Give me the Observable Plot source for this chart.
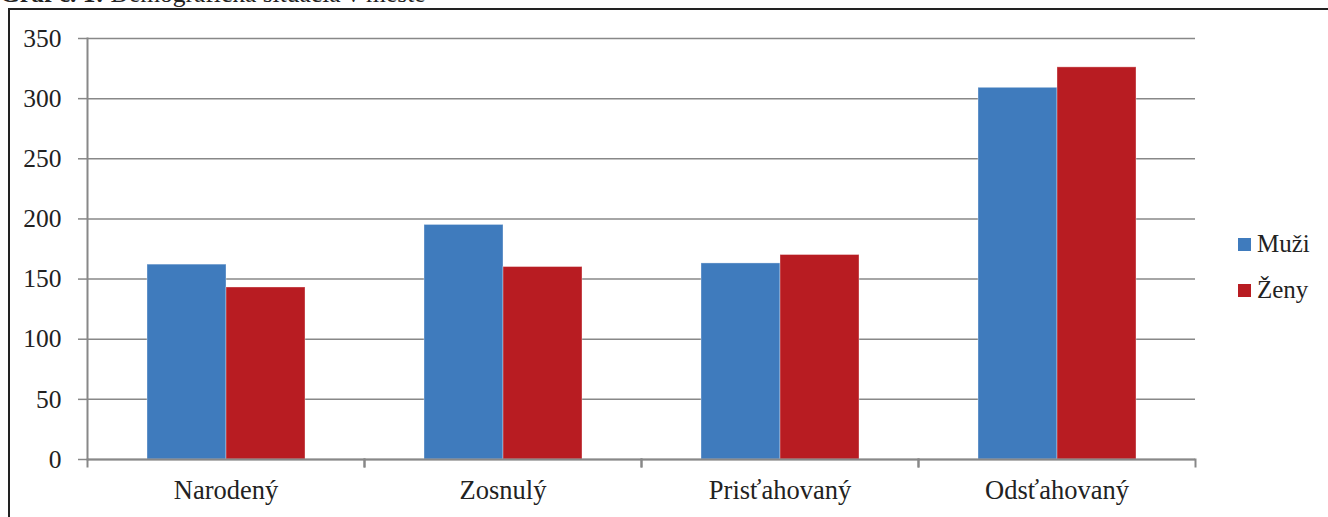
<!DOCTYPE html>
<html>
<head>
<meta charset="utf-8">
<script src="https://cdn.jsdelivr.net/npm/d3@7"></script>
<script src="https://cdn.jsdelivr.net/npm/@observablehq/plot@0.6"></script>
<style>
  html, body { margin: 0; padding: 0; background: #fff; overflow: hidden; }
  body { width: 1328px; height: 517px; position: relative; font-family: "Liberation Serif", "DejaVu Serif", serif; }
  #title { position: absolute; left: 0; top: -19px; font-size: 25.5px; line-height: 1; color: #222; white-space: nowrap; }
  #box { position: absolute; left: 8px; top: 8px; width: 1340px; height: 540px; border: 2px solid #222; box-sizing: border-box; }
  #chart { position: absolute; left: 0; top: 0; }
  #legend { position: absolute; left: 1238px; top: 221px; font-size: 25px; color: #222; }
  #legend .item { display: flex; align-items: center; height: 46px; }
  #legend .sw { width: 13px; height: 13px; margin-right: 6px; }
</style>
</head>
<body>
<div id="title"><b>Graf č. 1:</b> Demografická situácia v meste</div>
<div id="box"></div>
<div id="chart"></div>
<div id="legend"></div>
<script>
const categories = ["Narodený", "Zosnulý", "Prisťahovaný", "Odsťahovaný"];
const seriesNames = ["Muži", "Ženy"];
const muzi = [162, 195, 163, 309];
const zeny = [143, 160, 170, 326];
const yTicks = [0, 50, 100, 150, 200, 250, 300, 350];
const colors = ["#3F7BBD", "#B81C22"];

const data = [];
categories.forEach((c, i) => {
  data.push({category: c, series: seriesNames[0], value: muzi[i]});
  data.push({category: c, series: seriesNames[1], value: zeny[i]});
});

const W = 1328, H = 517, mT = 38, mB = 58, mL = 86, mR = 133;
const grey = "#888888";

const chart = Plot.plot({
  width: W, height: H,
  marginTop: mT, marginBottom: mB, marginLeft: mL, marginRight: mR,
  style: {fontFamily: '"Liberation Serif", serif', fontSize: "25px", color: "#222", background: "transparent", overflow: "visible"},
  fx: {domain: categories, padding: 0, label: null},
  x: {domain: seriesNames, paddingInner: 0, paddingOuter: 0.753, axis: null},
  y: {domain: [0, 350], ticks: yTicks, label: null},
  color: {domain: seriesNames, range: colors},
  marks: [
    Plot.gridY(yTicks, {stroke: grey, strokeOpacity: 1, strokeWidth: 1.5}),
    Plot.barY(data, {fx: "category", x: "series", y: "value", fill: "series", stroke: "#ffffff", strokeOpacity: 0.35, strokeWidth: 1}),
    Plot.ruleY([0], {stroke: grey, strokeWidth: 2}),
    Plot.frame({anchor: "left", stroke: grey, strokeWidth: 2, insetTop: H - mT - mB, insetBottom: -7}),
    Plot.frame({anchor: "right", stroke: grey, strokeWidth: 2, insetTop: H - mT - mB, insetBottom: -7}),
    Plot.frame({anchor: "left", stroke: grey, strokeWidth: 2, facet: "super"}),
    Plot.axisY(yTicks, {tickSize: 9, tickPadding: 17, stroke: grey, strokeWidth: 1.5, fontSize: 25.5}),
    Plot.axisFx({anchor: "bottom", tickSize: 0, tickPadding: 21, fontSize: 26.5, label: null})
  ]
});
document.getElementById("chart").appendChild(chart);

const legend = document.getElementById("legend");
seriesNames.forEach((s, i) => {
  const it = document.createElement("div");
  it.className = "item";
  it.innerHTML = `<span class="sw" style="background:${colors[i]}"></span><span>${s}</span>`;
  legend.appendChild(it);
});
</script>
</body>
</html>
